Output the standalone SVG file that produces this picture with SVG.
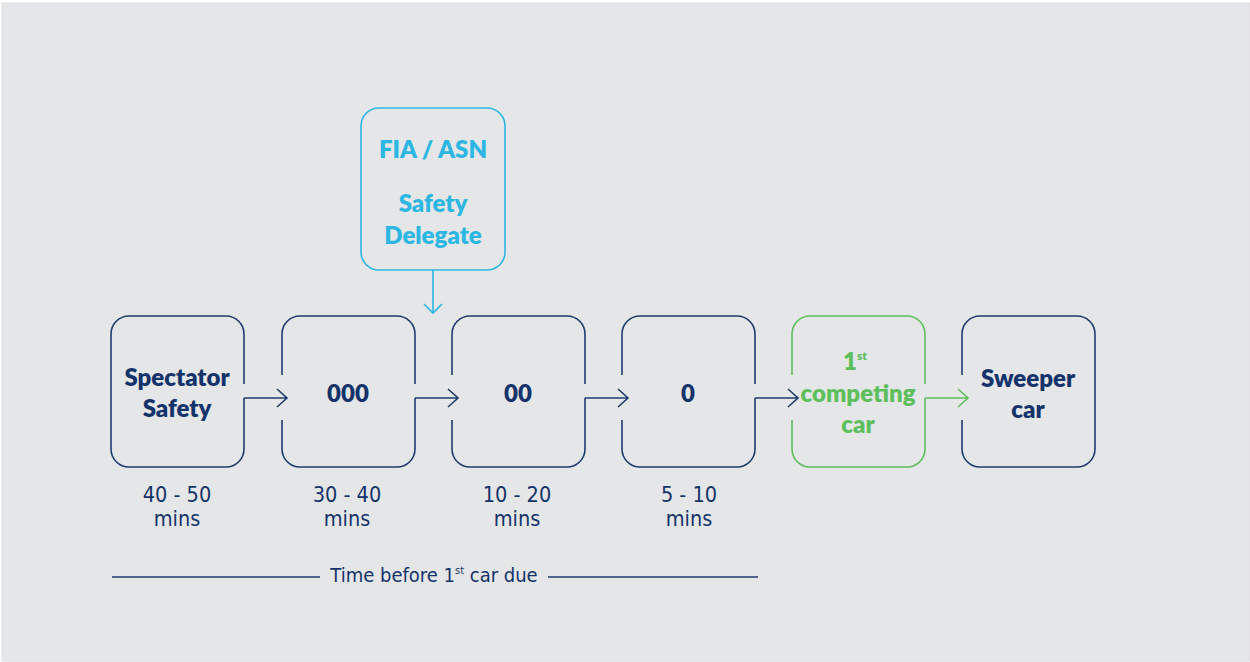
<svg xmlns="http://www.w3.org/2000/svg" width="1250" height="662" viewBox="0 0 1250 662">
  <style>
    .bx{fill:none;stroke:#1d3c6e;stroke-width:1.6}
    .bxg{fill:none;stroke:#5dbf5b;stroke-width:1.6}
    .bxc{fill:none;stroke:#2cb6e2;stroke-width:1.6}
    .cn{fill:none;stroke:#1d3c6e;stroke-width:1.6}
    .cng{fill:none;stroke:#5dbf5b;stroke-width:1.6}
    .cnc{fill:none;stroke:#2cb6e2;stroke-width:1.6}
    .t{font-family:"Lato","Open Sans",sans-serif;font-weight:800;font-size:24px;fill:#13336a;text-anchor:middle}
    .tg{fill:#5dbf5b}
    .tc{fill:#2cb6e2}
    .s{font-family:"DejaVu Sans Condensed","DejaVu Sans",sans-serif;font-stretch:condensed;font-size:21.5px;fill:#13336a;text-anchor:middle}
    .ax{font-size:20px}
    .sup{font-size:11px}
    .supb{font-size:12px}
  </style>
  <rect x="0" y="0" width="1250" height="662" fill="#ffffff"/>
  <rect x="2" y="3" width="1248" height="658" fill="#e5e6e8" stroke="#dcdddf" stroke-width="1"/>

  <g id="node-fia">
    <rect class="bxc" x="361" y="108" width="144" height="162" rx="18"/>
    <text class="t tc" x="433" y="158">FIA / ASN</text>
    <text class="t tc" x="433" y="212">Safety</text>
    <text class="t tc" x="433" y="244">Delegate</text>
  </g>

  <g id="node-spectator">
    <path class="bx" d="M129,316 H226 A18,18 0 0 1 244,334 V384 M244,398 V449 A18,18 0 0 1 226,467 H129 A18,18 0 0 1 111,449 V334 A18,18 0 0 1 129,316"/>
    <text class="t" x="177" y="386">Spectator</text>
    <text class="t" x="177" y="417">Safety</text>
  </g>

  <g id="node-000">
    <path class="bx" d="M300,316 H397 A18,18 0 0 1 415,334 V384 M415,398 V449 A18,18 0 0 1 397,467 H300 A18,18 0 0 1 282,449 V420 M282,375 V334 A18,18 0 0 1 300,316"/>
    <text class="t" x="348" y="402">000</text>
  </g>

  <g id="node-00">
    <path class="bx" d="M470,316 H567 A18,18 0 0 1 585,334 V384 M585,398 V449 A18,18 0 0 1 567,467 H470 A18,18 0 0 1 452,449 V420 M452,375 V334 A18,18 0 0 1 470,316"/>
    <text class="t" x="518" y="402">00</text>
  </g>

  <g id="node-0">
    <path class="bx" d="M640,316 H737 A18,18 0 0 1 755,334 V384 M755,398 V449 A18,18 0 0 1 737,467 H640 A18,18 0 0 1 622,449 V420 M622,375 V334 A18,18 0 0 1 640,316"/>
    <text class="t" x="688" y="402">0</text>
  </g>

  <g id="node-first-car">
    <path class="bxg" d="M810,316 H907 A18,18 0 0 1 925,334 V384 M925,398 V449 A18,18 0 0 1 907,467 H810 A18,18 0 0 1 792,449 V420 M792,375 V334 A18,18 0 0 1 810,316"/>
    <text class="t tg" x="855" y="370">1<tspan class="supb" dy="-10">st</tspan></text>
    <text class="t tg" x="858" y="402">competing</text>
    <text class="t tg" x="858" y="433">car</text>
  </g>

  <g id="node-sweeper">
    <path class="bx" d="M980,316 H1077 A18,18 0 0 1 1095,334 V449 A18,18 0 0 1 1077,467 H980 A18,18 0 0 1 962,449 V420 M962,375 V334 A18,18 0 0 1 980,316"/>
    <text class="t" x="1028" y="387">Sweeper</text>
    <text class="t" x="1028" y="418">car</text>
  </g>

  <g id="connectors">
    <path class="cn" d="M244,398 H287 M277,389 L287,398 L277,407"/>
    <path class="cn" d="M415,398 H458 M448,389 L458,398 L448,407"/>
    <path class="cn" d="M585,398 H628 M618,389 L628,398 L618,407"/>
    <path class="cn" d="M755,398 H798 M788,389 L798,398 L788,407"/>
    <path class="cng" d="M925,398 H968 M958,389 L968,398 L958,407"/>
    <path class="cnc" d="M433,270 V313 M424,304 L433,313 L442,304"/>
  </g>

  <g id="time-labels">
    <text class="s" x="177" y="502">40 - 50</text>
    <text class="s" x="177" y="526">mins</text>
    <text class="s" x="347" y="502">30 - 40</text>
    <text class="s" x="347" y="526">mins</text>
    <text class="s" x="517" y="502">10 - 20</text>
    <text class="s" x="517" y="526">mins</text>
    <text class="s" x="689" y="502">5 - 10</text>
    <text class="s" x="689" y="526">mins</text>
  </g>

  <g id="time-axis">
    <path class="cn" d="M112,577 H320 M548,577 H758"/>
    <text class="s ax" x="434" y="582">Time before 1<tspan class="sup" dy="-8">st</tspan><tspan dy="8"> car due</tspan></text>
  </g>
</svg>
